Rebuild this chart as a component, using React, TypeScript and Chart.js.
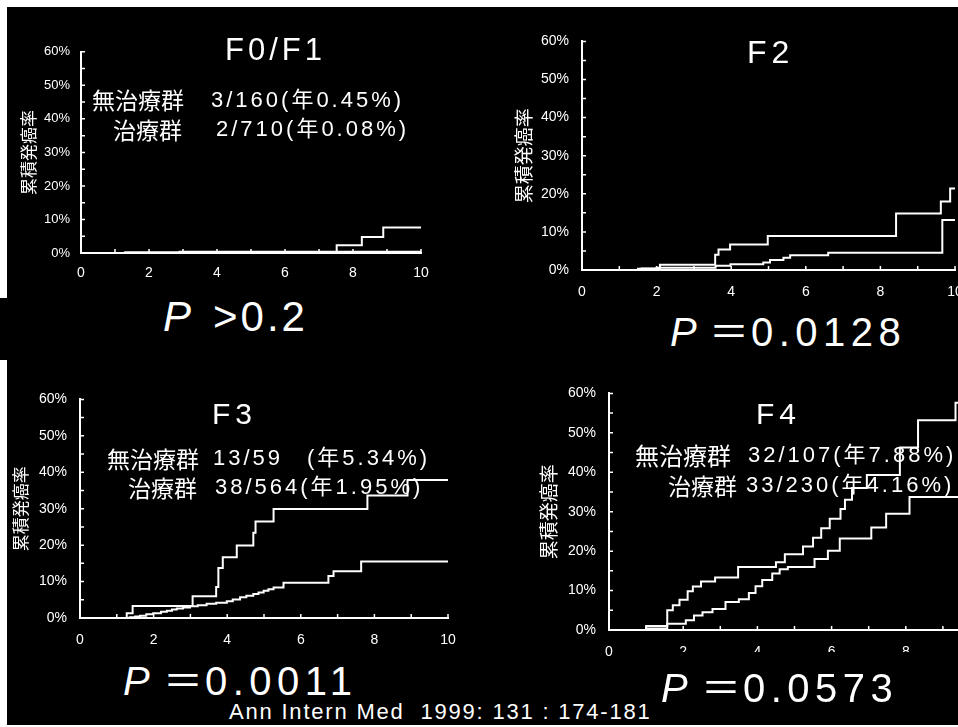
import React, { useEffect, useRef } from "react";
import { Chart, registerables } from "chart.js";

Chart.register(...registerables);

type Pt = [number, number];

// ---- data (years, cumulative incidence %) ----
const yTickMarks = [0, 5, 10, 15, 20, 25, 30, 35, 40, 45, 50, 55, 60];
const xTickMarks = [0, 1, 2, 3, 4, 5, 6, 7, 8, 9, 10];
const yAxisTitle = "累積発癌率";

const f01Untreated: Pt[] = [[0, 0], [7.52, 2.3], [8.26, 4.8], [8.89, 7.6], [10, 7.6]];
const f01Treated: Pt[] = [[0, 0], [1.3, 0.2], [2.9, 0.4], [10, 0.4]];

const f2Untreated: Pt[] = [[0, 0], [1.6, 0.4], [2.09, 1.4], [3.57, 4.0], [3.66, 5.4], [3.97, 6.7], [4.98, 8.9], [8.42, 14.8], [9.62, 18.0], [9.87, 21.4], [10, 21.4]];
const f2Treated: Pt[] = [[0, 0], [1.5, 0.3], [2.0, 0.6], [3.58, 1.1], [3.98, 1.5], [4.86, 2.0], [5.04, 2.6], [5.4, 3.2], [5.58, 3.9], [6.6, 4.5], [9.66, 13.1], [10, 13.1]];

const f3Untreated: Pt[] = [[0, 0], [1.27, 1.3], [1.43, 3.3], [3.06, 6.0], [3.7, 8.5], [3.76, 13.7], [3.88, 16.7], [4.26, 19.9], [4.71, 23.4], [4.77, 26.5], [5.26, 29.9], [7.81, 33.6], [8.9, 37.9], [10, 37.9]];
const f3Treated: Pt[] = [[0, 0], [1.35, 0.2], [1.5, 0.4], [1.63, 0.6], [1.8, 1.0], [1.99, 1.3], [2.2, 1.7], [2.36, 2.0], [2.5, 2.3], [2.63, 2.6], [2.8, 2.9], [2.99, 3.2], [3.2, 3.5], [3.44, 3.9], [3.7, 4.2], [3.99, 4.6], [4.15, 5.1], [4.35, 5.7], [4.52, 6.1], [4.71, 6.6], [4.85, 7.0], [4.99, 7.5], [5.12, 7.9], [5.26, 8.4], [5.53, 9.7], [6.75, 11.5], [6.89, 12.8], [7.64, 15.5], [10, 15.5]];

const f4Untreated: Pt[] = [[0, 0], [1.0, 1.0], [1.57, 5.0], [1.72, 6.3], [1.9, 7.7], [2.12, 9.8], [2.26, 11.0], [2.48, 12.3], [2.86, 13.3], [3.48, 16.0], [4.5, 17.2], [4.74, 19.2], [5.23, 21.2], [5.5, 23.4], [5.72, 25.8], [5.95, 28.2], [6.24, 30.7], [6.36, 33.0], [6.55, 36.0], [6.95, 39.3], [7.84, 46.3], [8.33, 53.2], [9.34, 57.6], [10, 57.6]];
const f4Treated: Pt[] = [[0, 0], [1.0, 0.4], [1.57, 1.6], [2.07, 2.5], [2.29, 3.7], [2.52, 4.5], [2.79, 5.3], [3.14, 7.1], [3.5, 7.8], [3.77, 9.4], [3.95, 11.1], [4.13, 12.7], [4.4, 14.3], [4.6, 15.4], [4.82, 16.0], [5.54, 18.0], [5.9, 20.1], [6.22, 23.2], [7.07, 26.0], [7.47, 29.5], [8.1, 33.7], [10, 33.7]];

// ---- layout ----
const Y_W = 76;
const PAD_T = 14;
const PAD_R = 24;
const X_H = 40;
const LATIN = "'Liberation Sans', Arial, 'Noto Sans CJK JP', sans-serif";
const CJK = "'Noto Sans CJK JP', 'Liberation Sans', sans-serif";

interface PanelSpec {
  left: number; right: number; top: number; bottom: number;
  untreated: Pt[]; treated: Pt[];
  titleSize: number; titlePad: number; yTickSize: number; yTickPad: number; xTickPad: number;
}

const panels: PanelSpec[] = [
  { left: 81, right: 421, top: 47, bottom: 253, untreated: f01Untreated, treated: f01Treated, titleSize: 17, titlePad: 13, yTickSize: 13, yTickPad: 11, xTickPad: 12 },
  { left: 582, right: 955, top: 34, bottom: 270, untreated: f2Untreated, treated: f2Treated, titleSize: 19, titlePad: 6, yTickSize: 14, yTickPad: 13, xTickPad: 14 },
  { left: 80, right: 448, top: 392, bottom: 618, untreated: f3Untreated, treated: f3Treated, titleSize: 17, titlePad: 6, yTickSize: 14, yTickPad: 13, xTickPad: 14 },
  { left: 609, right: 980, top: 386, bottom: 630, untreated: f4Untreated, treated: f4Treated, titleSize: 19, titlePad: 4, yTickSize: 14, yTickPad: 13, xTickPad: 14 },
];

const innerTicks = {
  id: "innerTicks",
  afterDatasetsDraw(chart: any) {
    const { ctx, chartArea, scales } = chart;
    const x = scales.x, y = scales.y;
    ctx.save();
    ctx.strokeStyle = "#fff";
    ctx.lineWidth = 1.5;
    ctx.beginPath();
    for (const v of yTickMarks) {
      const py = y.getPixelForValue(v);
      ctx.moveTo(chartArea.left, py);
      ctx.lineTo(chartArea.left + 4, py);
    }
    for (const v of xTickMarks) {
      const px = x.getPixelForValue(v);
      ctx.moveTo(px, chartArea.bottom);
      ctx.lineTo(px, chartArea.bottom - 4);
    }
    ctx.stroke();
    ctx.restore();
  },
};

function Panel({ spec }: { spec: PanelSpec }) {
  const ref = useRef<HTMLCanvasElement>(null);
  const W = Y_W + (spec.right - spec.left) + PAD_R;
  const H = PAD_T + (spec.bottom - spec.top) + X_H;
  useEffect(() => {
    const line = (pts: Pt[], label: string) => ({
      label,
      data: pts.map(([x, y]) => ({ x, y })),
      borderColor: "#fff",
      backgroundColor: "#fff",
      borderWidth: 2,
      pointRadius: 0,
      stepped: true as const,
      fill: false,
    });
    const chart = new Chart(ref.current!, {
      type: "line",
      data: { datasets: [line(spec.untreated, "無治療群"), line(spec.treated, "治療群")] },
      options: {
        responsive: false,
        animation: false,
        layout: { padding: { top: PAD_T, right: PAD_R, left: 0, bottom: 0 } },
        plugins: { legend: { display: false }, tooltip: { enabled: false } },
        scales: {
          x: {
            type: "linear", min: 0, max: 10,
            ticks: { stepSize: 2, color: "#fff", font: { family: LATIN, size: 14 }, padding: spec.xTickPad, maxRotation: 0, autoSkip: false },
            grid: { display: false, drawTicks: false },
            border: { display: true, color: "#fff", width: 2 },
            afterFit: (s: any) => { s.height = X_H; },
          },
          y: {
            type: "linear", min: 0, max: 60,
            ticks: { stepSize: 10, color: "#fff", font: { family: LATIN, size: spec.yTickSize }, padding: spec.yTickPad, callback: (v: any) => v + "%" },
            grid: { display: false, drawTicks: false },
            border: { display: true, color: "#fff", width: 2 },
            title: { display: true, text: yAxisTitle, color: "#fff", font: { family: CJK, size: spec.titleSize }, padding: { top: spec.titlePad, bottom: 0 } },
            afterFit: (s: any) => { s.width = Y_W; },
          },
        },
      },
      plugins: [innerTicks],
    } as any);
    return () => chart.destroy();
  }, []);
  return (
    <canvas ref={ref} width={W} height={H}
      style={{ position: "absolute", left: spec.left - Y_W, top: spec.top - PAD_T, width: W, height: H }} />
  );
}

function Txt({ x, yc, size, text, italic, sp, fam }: { x: number; yc: number; size: number; text: string; italic?: boolean; sp?: number; fam?: string }) {
  return (
    <div style={{
      position: "absolute", left: x, top: yc - 0.49 * size, fontSize: size, lineHeight: 1,
      whiteSpace: "pre", color: "#fff", fontStyle: italic ? "italic" : "normal",
      letterSpacing: sp ? sp + "px" : "normal", fontFamily: fam || LATIN,
    }}>{text}</div>
  );
}

export default function App() {
  return (
    <div style={{ position: "fixed", left: 0, top: 0, width: 958, height: 727, background: "#fff", overflow: "hidden" }}>
      <div style={{ position: "absolute", left: 7, top: 7, width: 951, height: 718, background: "#000" }} />
      <div style={{ position: "absolute", left: 0, top: 298, width: 7, height: 62, background: "#000" }} />
      {panels.map((p, i) => <Panel key={i} spec={p} />)}

      {/* F0/F1 */}
      <Txt x={225} yc={49} size={31} sp={4} text="F0/F1" />
      <Txt x={92} yc={99} size={23} fam={CJK} text="無治療群" />
      <Txt x={211} yc={100} size={22} sp={3} text="3/160(年0.45%)" />
      <Txt x={113} yc={129} size={23} fam={CJK} text="治療群" />
      <Txt x={216} yc={129} size={22} sp={3} text="2/710(年0.08%)" />
      <Txt x={163} yc={317} size={42} italic text="P" />
      <Txt x={213} yc={317} size={42} sp={3} text=">0.2" />

      {/* F2 */}
      <Txt x={747} yc={52} size={32} sp={5} text="F2" />
      <Txt x={670} yc={332} size={40} italic text="P" />
      <Txt x={709} yc={332} size={40} text="＝" />
      <Txt x={751} yc={332} size={40} sp={5.5} text="0.0128" />

      {/* F3 */}
      <Txt x={212} yc={414} size={30} sp={5} text="F3" />
      <Txt x={107} yc={458} size={23} fam={CJK} text="無治療群" />
      <Txt x={213} yc={458} size={22} sp={3} text="13/59" />
      <Txt x={307} yc={458} size={22} sp={3} text="(年5.34%)" />
      <Txt x={128} yc={487} size={23} fam={CJK} text="治療群" />
      <Txt x={215} yc={487} size={22} sp={3} text="38/564(年1.95%)" />
      <Txt x={123} yc={681} size={40} italic text="P" />
      <Txt x={163} yc={681} size={40} text="＝" />
      <Txt x={205} yc={681} size={40} sp={5.5} text="0.0011" />

      {/* F4 */}
      <Txt x={756} yc={414} size={30} sp={5} text="F4" />
      <Txt x={635} yc={455} size={24} fam={CJK} text="無治療群" />
      <Txt x={748} yc={455} size={22} sp={3} text="32/107(年7.88%)" />
      <Txt x={668} yc={485} size={23} fam={CJK} text="治療群" />
      <Txt x={746} yc={485} size={22} sp={3} text="33/230(年4.16%)" />
      <div style={{ position: "absolute", left: 660, top: 652, width: 298, height: 18, background: "#000" }} />
      <Txt x={661} yc={688} size={40} italic text="P" />
      <Txt x={701} yc={688} size={40} text="＝" />
      <Txt x={743} yc={688} size={40} sp={5.5} text="0.0573" />

      <Txt x={229} yc={712} size={22} sp={1.8} text="Ann Intern Med  1999: 131 : 174-181" />
    </div>
  );
}
